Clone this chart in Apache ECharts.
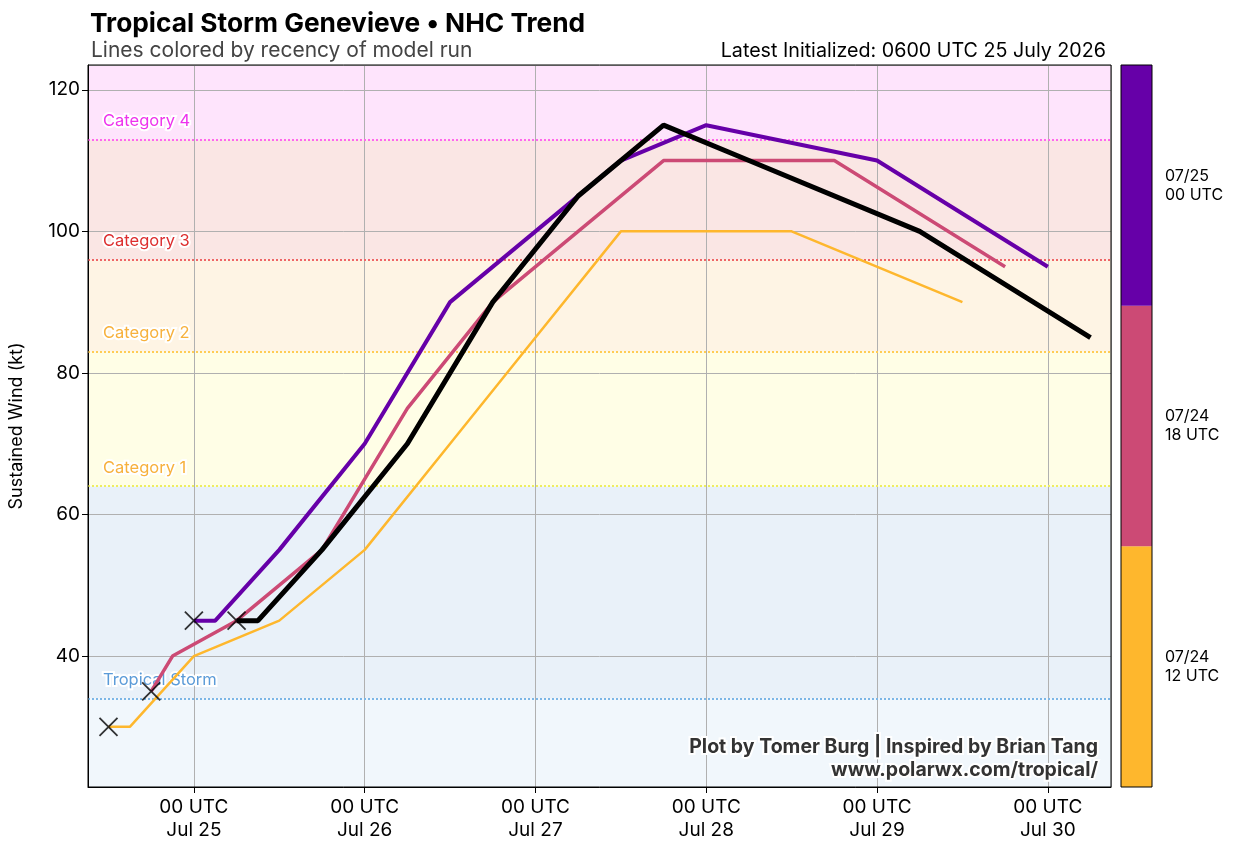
<!DOCTYPE html>
<html>
<head>
<meta charset="utf-8">
<script src="https://cdn.jsdelivr.net/npm/echarts@6/dist/echarts.min.js"></script>
<style>
  html, body { margin: 0; padding: 0; background: #fff; }
  #chart { width: 1237px; height: 853px; }
</style>
</head>
<body>
<div id="chart"></div>
<script>
// NHC forecast runs, oldest first
const runLabels = ['07/24\n12 UTC', '07/24\n18 UTC', '07/25\n00 UTC', '07/25\n06 UTC'];
const runInits = ['2026-07-24T12:00Z', '2026-07-24T18:00Z', '2026-07-25T00:00Z', '2026-07-25T06:00Z'];
const runColors = ['#feb72d', '#cc4a75', '#6600a8', '#000000'];
const runWidths = [2.5, 3.5, 4, 5];
const fcstHours = [0, 3, 12, 24, 36, 48, 60, 72, 96, 120];
const wind_0724_12 = [30, 30, 40, 45, 55, 70, 85, 100, 100, 90];
const wind_0724_18 = [35, 40, 45, 55, 75, 90, 100, 110, 110, 95];
const wind_0725_00 = [45, 45, 55, 70, 90, 100, 110, 115, 110, 95];
const wind_0725_06 = [45, 45, 55, 70, 90, 105, 115, 110, 100, 85];
const runWinds = [wind_0724_12, wind_0724_18, wind_0725_00, wind_0725_06];

// Saffir-Simpson thresholds
const catNames = ['Tropical Storm', 'Category 1', 'Category 2', 'Category 3', 'Category 4'];
const catWinds = [34, 64, 83, 96, 113];
const catLineColors = ['#7cb6e6', '#eeee60', '#ffcc55', '#ee6666', '#ff66f0'];
const catTextColors = ['#5b9bd8', '#f7b13c', '#f7b13c', '#dd2e2e', '#ee33ee'];
const bandColors = ['#f1f7fc', '#e9f1f9', '#fffee6', '#fef4e4', '#fae6e4', '#fee4fc'];

const Y_MIN = 21.5, Y_MAX = 123.5;
const ref0 = Date.parse('2026-07-25T00:00Z');
const toDay = (iso, h) => (Date.parse(iso) + h * 3600e3 - ref0) / 86400e3;
const dayLabel = ['Jul 25', 'Jul 26', 'Jul 27', 'Jul 28', 'Jul 29', 'Jul 30'];

const font = 'Inter, "Noto Sans", sans-serif';

const bandEdges = [Y_MIN].concat(catWinds, [Y_MAX]);
const bandData = bandColors.map((c, i) => [
  {yAxis: bandEdges[i], itemStyle: {color: c}},
  {yAxis: bandEdges[i + 1]}
]);
const catLines = catWinds.map((w, i) => ({
  yAxis: w,
  lineStyle: {color: catLineColors[i]},
  label: {formatter: catNames[i], color: catTextColors[i]}
}));

const series = [{
  type: 'line',
  data: [],
  z: 1,
  silent: true,
  markArea: {silent: true, z: -1, data: bandData},
  markLine: {
    silent: true,
    z: 1,
    symbol: 'none',
    lineStyle: {type: 'dotted', width: 2, opacity: 1},
    label: {
      position: 'insideStartTop',
      distance: [15, 10],
      fontSize: 16.5,
      fontFamily: font,
      textBorderColor: '#fff',
      textBorderWidth: 4
    },
    data: catLines
  }
}];

runWinds.forEach((w, i) => {
  series.push({
    name: runLabels[i],
    type: 'line',
    z: 3 + i,
    symbol: 'none',
    lineStyle: {color: runColors[i], width: runWidths[i]},
    data: fcstHours.map((h, j) => [toDay(runInits[i], h), w[j]])
  });
});

// initial intensity markers
series.push({
  type: 'scatter',
  z: 10,
  symbol: 'path://M0,0L10,10M10,0L0,10',
  symbolSize: 18,
  itemStyle: {color: 'none', borderColor: '#000', borderWidth: 1.8},
  data: runInits.map((t, i) => [toDay(t, 0), runWinds[i][0]])
});

// colorbar
series.push({
  type: 'bar',
  xAxisIndex: 1,
  yAxisIndex: 1,
  barWidth: '100%',
  silent: true,
  data: runColors.slice(0, 3).map(c => ({value: 1, itemStyle: {color: c}}))
});

const chart = echarts.init(document.getElementById('chart'));
chart.setOption({
  animation: false,
  backgroundColor: '#fff',
  title: [
    {text: 'Tropical Storm Genevieve • NHC Trend', left: 85, top: 6,
      textStyle: {fontFamily: font, fontSize: 26.3, fontWeight: 'bold', color: '#000'}},
    {text: 'Lines colored by recency of model run', left: 86, top: 35,
      textStyle: {fontFamily: font, fontSize: 21, fontWeight: 'normal', color: '#444'}},
    {text: 'Latest Initialized: 0600 UTC 25 July 2026', right: 126, top: 36,
      textStyle: {fontFamily: font, fontSize: 19.7, fontWeight: 'normal', color: '#000'}}
  ],
  grid: [
    {left: 87, right: 126, top: 65, bottom: 66, show: true, borderColor: '#000', borderWidth: 1, z: 8},
    {left: 1121, width: 31, top: 65, bottom: 66, show: true, borderColor: '#000', borderWidth: 1, z: 8}
  ],
  xAxis: [{
    type: 'value',
    min: -0.62,
    max: 5.37,
    splitNumber: 6,
    axisLine: {onZero: false, lineStyle: {color: '#000'}},
    axisTick: {show: true, length: 6, lineStyle: {color: '#000'}},
    splitLine: {show: true, lineStyle: {color: '#b0b0b0', width: 1}},
    axisLabel: {
      showMinLabel: false, showMaxLabel: false,
      fontFamily: font, fontSize: 19, color: '#000', lineHeight: 23, margin: 9,
      formatter: v => Number.isInteger(v) && dayLabel[v] ? '00 UTC\n' + dayLabel[v] : ''
    }
  }, {
    type: 'value', gridIndex: 1, min: 0, max: 1, show: false
  }],
  yAxis: [{
    type: 'value',
    min: Y_MIN,
    max: Y_MAX,
    splitNumber: 5,
    name: 'Sustained Wind (kt)',
    nameLocation: 'middle',
    nameGap: 62,
    nameTextStyle: {fontFamily: font, fontSize: 18, color: '#000'},
    axisLine: {show: true, onZero: false, lineStyle: {color: '#000'}},
    axisTick: {show: true, length: 6, lineStyle: {color: '#000'}},
    splitLine: {show: true, lineStyle: {color: '#b0b0b0', width: 1}},
    axisLabel: {showMinLabel: false, showMaxLabel: false,
      fontFamily: font, fontSize: 19, color: '#000', margin: 8}
  }, {
    type: 'category',
    gridIndex: 1,
    position: 'right',
    data: runLabels.slice(0, 3),
    axisLine: {show: false},
    axisTick: {show: true, alignWithLabel: true, length: 5, lineStyle: {color: '#000'}},
    axisLabel: {fontFamily: font, fontSize: 16, color: '#000', lineHeight: 19, margin: 13, align: 'left'}
  }],
  graphic: [{
    type: 'text',
    right: 137,
    top: 735,
    z: 100,
    style: {
      text: 'Plot by Tomer Burg | Inspired by Brian Tang',
      font: 'bold 19.5px ' + font,
      fill: '#333',
      stroke: '#fff',
      lineWidth: 4
    }
  }, {
    type: 'text',
    right: 137,
    top: 758,
    z: 100,
    style: {
      text: 'www.polarwx.com/tropical/',
      font: 'bold 19.5px ' + font,
      fill: '#333',
      stroke: '#fff',
      lineWidth: 4
    }
  }],
  series: series
});
</script>
</body>
</html>
